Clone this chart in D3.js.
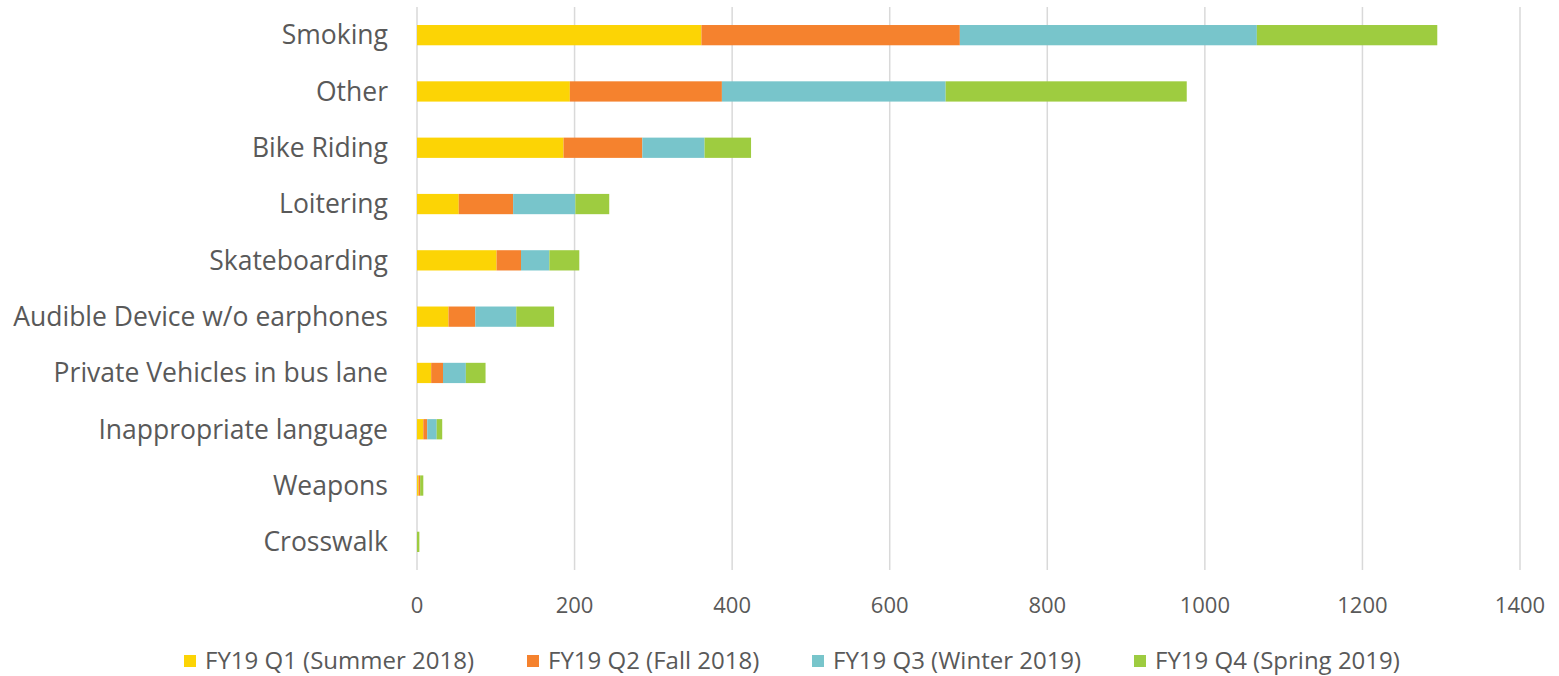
<!DOCTYPE html>
<html>
<head>
<meta charset="utf-8">
<script src="https://cdn.jsdelivr.net/npm/d3@7"></script>
<style>
  body { margin: 0; background: #fff; }
  svg text { font-family: "Open Sans", sans-serif; fill: #595959; }
</style>
</head>
<body>
<svg id="chart" width="1559" height="676"></svg>
<script>
var categories = ['Smoking', 'Other', 'Bike Riding', 'Loitering', 'Skateboarding',
  'Audible Device w/o earphones', 'Private Vehicles in bus lane',
  'Inappropriate language', 'Weapons', 'Crosswalk'];

var seriesNames = ['FY19 Q1 (Summer 2018)', 'FY19 Q2 (Fall 2018)',
  'FY19 Q3 (Winter 2019)', 'FY19 Q4 (Spring 2019)'];

var q1 = [361, 194, 186, 53, 101, 40, 18, 8, 2, 0];
var q2 = [328, 193, 100, 69, 31, 34, 15, 5, 2, 0];
var q3 = [377, 284, 79, 79, 36, 52, 29, 12, 0, 0];
var q4 = [229, 306, 59, 43, 38, 48, 25, 7, 4, 3];

var xTicks = [0, 200, 400, 600, 800, 1000, 1200, 1400];
var colors = ['#FCD405', '#F5822E', '#78C5CB', '#9ECC40'];

var svg = d3.select('#chart');

var x = d3.scaleLinear().domain([0, 1400]).range([417, 1520]);
var y = d3.scaleBand().domain(categories).range([7, 570])
  .paddingInner(0.64).paddingOuter(0.32);

// gridlines
svg.append('g').selectAll('line')
  .data(xTicks)
  .enter()
  .append('line')
  .attr('x1', d => x(d)).attr('x2', d => x(d))
  .attr('y1', 7).attr('y2', 570)
  .attr('stroke', '#D9D9D9')
  .attr('stroke-width', 1.5);

// stacked bars
var rows = categories.map(function (c, i) {
  return { cat: c, s0: q1[i], s1: q2[i], s2: q3[i], s3: q4[i] };
});
var stack = d3.stack().keys(['s0', 's1', 's2', 's3'])(rows);

svg.append('g').selectAll('g')
  .data(stack)
  .enter()
  .append('g')
  .attr('fill', (d, i) => colors[i])
  .selectAll('rect')
  .data(d => d)
  .enter()
  .append('rect')
  .attr('x', d => x(d[0]))
  .attr('width', d => x(d[1]) - x(d[0]))
  .attr('y', d => y(d.data.cat))
  .attr('height', y.bandwidth());

// category labels
svg.append('g').selectAll('text')
  .data(categories)
  .enter()
  .append('text')
  .attr('x', 388)
  .attr('y', d => y(d) + y.bandwidth() / 2)
  .attr('dy', '0.35em')
  .attr('text-anchor', 'end')
  .style('font-size', '26.5px')
  .text(d => d);

// x tick labels
svg.append('g').selectAll('text')
  .data(xTicks)
  .enter()
  .append('text')
  .attr('x', d => x(d))
  .attr('y', 605)
  .attr('dy', '0.35em')
  .attr('text-anchor', 'middle')
  .style('font-size', '22px')
  .text(d => d);

// legend
var legendX = [184, 527, 812, 1134];
var legend = svg.append('g').selectAll('g')
  .data(seriesNames)
  .enter()
  .append('g')
  .attr('transform', (d, i) => 'translate(' + legendX[i] + ',661)');

legend.append('rect')
  .attr('x', 0).attr('y', -6)
  .attr('width', 12).attr('height', 12)
  .attr('fill', (d, i) => colors[i]);

legend.append('text')
  .attr('x', 21)
  .attr('dy', '0.35em')
  .style('font-size', '24px')
  .text(d => d);
</script>
</body>
</html>
